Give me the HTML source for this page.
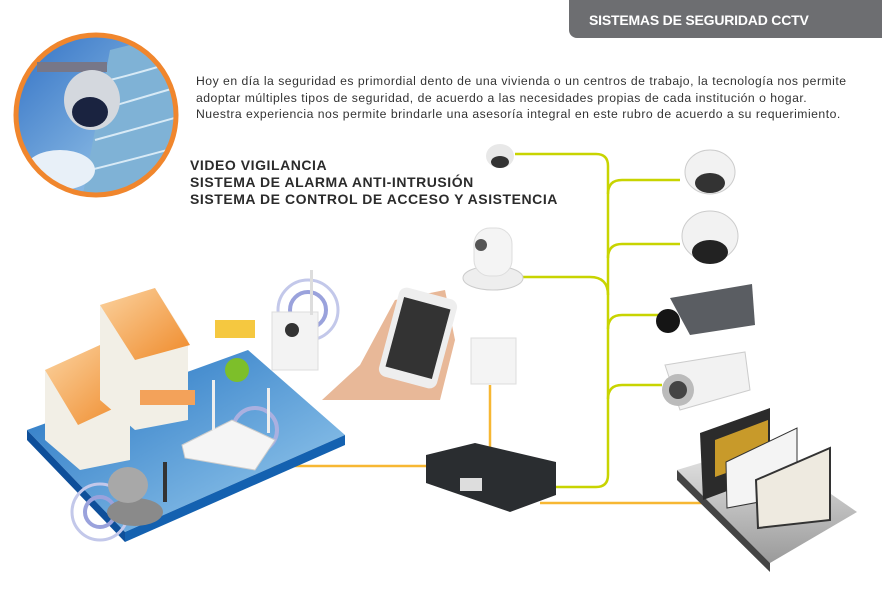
<!DOCTYPE html>
<html><head><meta charset="utf-8"><style>
body{margin:0;width:882px;height:593px;background:#fff;overflow:hidden;position:relative;font-family:"Liberation Sans",sans-serif}
.hdr{position:absolute;left:569px;top:0;width:313px;height:38px;background:#6d6e71;border-bottom-left-radius:8px;color:#fff;font-weight:bold;font-size:14px;line-height:40px;padding-left:20px;box-sizing:border-box;letter-spacing:-0.2px}
.p{position:absolute;left:196px;top:73px;font-size:12.2px;line-height:16.5px;color:#333;white-space:nowrap;letter-spacing:0.5px}
.t{position:absolute;left:190px;top:157px;font-size:14px;font-weight:bold;line-height:17px;color:#2b2b2b;white-space:nowrap;letter-spacing:0.55px}
svg{position:absolute;left:0;top:0}
</style></head><body>
<svg width="882" height="593" viewBox="0 0 882 593">
<defs>
<linearGradient id="sky" x1="0" y1="0" x2="1" y2="1"><stop offset="0" stop-color="#2f6fc4"/><stop offset="0.6" stop-color="#7fb1e0"/><stop offset="1" stop-color="#c7def2"/></linearGradient>
<linearGradient id="plat" x1="0" y1="0" x2="1" y2="1"><stop offset="0" stop-color="#1e6fc0"/><stop offset="1" stop-color="#9fd0f0"/></linearGradient>
<linearGradient id="roof" x1="0" y1="0" x2="1" y2="1"><stop offset="0" stop-color="#fbd3a0"/><stop offset="1" stop-color="#ef8a2a"/></linearGradient>
<linearGradient id="tray" x1="0" y1="0" x2="0" y2="1"><stop offset="0" stop-color="#e8e8e8"/><stop offset="1" stop-color="#9a9a9a"/></linearGradient>
<clipPath id="cc"><circle cx="96" cy="115" r="78"/></clipPath>
</defs>
<g clip-path="url(#cc)">
<rect x="10" y="30" width="180" height="180" fill="url(#sky)"/>
<polygon points="110,50 190,30 190,210 80,210" fill="#7fb2d6"/>
<g stroke="#d8eaf6" stroke-width="2" fill="none"><path d="M110,80 Q150,70 180,60"/><path d="M100,110 Q150,95 185,85"/><path d="M95,140 Q150,125 185,115"/><path d="M90,170 Q150,155 185,145"/></g>
<ellipse cx="60" cy="170" rx="35" ry="20" fill="#e8f0f8"/>
</g>
<circle cx="96" cy="115" r="80" fill="none" stroke="#f0862d" stroke-width="5"/>
<rect x="37" y="62" width="70" height="10" fill="#778"/>
<ellipse cx="92" cy="100" rx="28" ry="30" fill="#d4d8de"/>
<ellipse cx="90" cy="112" rx="18" ry="15" fill="#1a2340"/>
<g fill="none" stroke="#c8d400" stroke-width="2.5">
<path d="M515,154 H596 Q608,154 608,166 V475 Q608,487 596,487 H553"/>
<path d="M522,277 H590 Q608,277 608,295"/>
<path d="M680,180 H622 Q608,180 608,194"/>
<path d="M680,244 H622 Q608,244 608,258"/>
<path d="M660,315 H622 Q608,315 608,329"/>
<path d="M662,385 H622 Q608,385 608,399"/>
</g>
<g fill="none" stroke="#f7b733" stroke-width="2.5">
<path d="M258,466 H430"/><path d="M490,385 V450"/><path d="M540,503 H702"/>
</g>
<polygon points="27,430 248,350 345,435 125,532" fill="url(#plat)"/>
<polygon points="27,430 125,532 125,542 27,440" fill="#0e4f9a"/>
<polygon points="125,532 345,435 345,445 125,542" fill="#1461b0"/>
<polygon points="45,370 100,345 130,395 130,460 80,470 45,440" fill="#f2efe6"/>
<polygon points="45,370 100,345 132,400 78,425" fill="url(#roof)"/>
<polygon points="100,305 155,288 188,340 188,420 135,430 100,400" fill="#f2efe6"/>
<polygon points="100,305 155,288 190,345 135,360" fill="url(#roof)"/>
<rect x="140" y="390" width="55" height="15" fill="#f3a25a"/>
<rect x="215" y="320" width="40" height="18" fill="#f5c840"/>
<circle cx="237" cy="370" r="12" fill="#7dbf2a"/>
<circle cx="308" cy="310" r="30" fill="none" stroke="#c3c8ea" stroke-width="3"/>
<circle cx="308" cy="310" r="18" fill="none" stroke="#9aa2dc" stroke-width="4"/>
<rect x="272" y="312" width="46" height="58" fill="#f3f3f3" stroke="#ddd"/>
<circle cx="292" cy="330" r="7" fill="#333"/>
<rect x="310" y="270" width="3" height="45" fill="#ddd"/>
<polygon points="322,400 360,365 395,300 445,290 455,340 440,400" fill="#e8b898"/>
<rect x="388" y="292" width="60" height="92" rx="8" fill="#eee" transform="rotate(15 418 338)"/>
<rect x="394" y="302" width="48" height="72" fill="#333" transform="rotate(15 418 338)"/>
<circle cx="255" cy="430" r="22" fill="none" stroke="#aab0e0" stroke-width="4"/>
<polygon points="182,445 232,420 275,440 255,470 185,458" fill="#f5f5f5" stroke="#ccc"/>
<rect x="212" y="380" width="3" height="50" fill="#eee"/><rect x="267" y="388" width="3" height="45" fill="#eee"/>
<circle cx="100" cy="512" r="28" fill="none" stroke="#c3c8ea" stroke-width="3"/>
<circle cx="100" cy="512" r="15" fill="none" stroke="#9aa2dc" stroke-width="4"/>
<ellipse cx="135" cy="512" rx="28" ry="14" fill="#8a8a8a"/>
<ellipse cx="128" cy="485" rx="20" ry="18" fill="#a8a8a8"/>
<rect x="163" y="462" width="4" height="40" fill="#333"/>
<ellipse cx="500" cy="156" rx="14" ry="12" fill="#e8e8e8"/><ellipse cx="500" cy="162" rx="9" ry="6" fill="#333"/>
<ellipse cx="493" cy="278" rx="30" ry="12" fill="#eee" stroke="#ccc"/>
<rect x="474" y="228" width="38" height="48" rx="16" fill="#f4f4f4" stroke="#ddd"/>
<circle cx="481" cy="245" r="6" fill="#555"/>
<rect x="471" y="338" width="45" height="46" fill="#f4f4f4" stroke="#ddd"/>
<polygon points="426,455 475,443 556,462 556,495 510,512 426,483" fill="#2a2d30"/>
<rect x="460" y="478" width="22" height="13" fill="#ddd"/>
<ellipse cx="710" cy="172" rx="25" ry="22" fill="#f2f2f2" stroke="#ccc"/><ellipse cx="710" cy="183" rx="15" ry="10" fill="#333"/>
<ellipse cx="710" cy="236" rx="28" ry="25" fill="#f2f2f2" stroke="#ccc"/><ellipse cx="710" cy="252" rx="18" ry="12" fill="#222"/>
<polygon points="670,298 752,284 755,325 690,335" fill="#5a5d62"/>
<circle cx="668" cy="321" r="12" fill="#151515"/>
<polygon points="665,365 745,352 750,390 680,410" fill="#f2f2f2" stroke="#ccc"/>
<circle cx="678" cy="390" r="16" fill="#bbb"/><circle cx="678" cy="390" r="9" fill="#444"/>
<polygon points="677,470 760,445 857,512 770,563" fill="url(#tray)"/>
<polygon points="677,470 770,563 770,572 677,480" fill="#444"/>
<polygon points="700,433 770,408 770,475 703,500" fill="#2b2b2b"/><polygon points="715,440 768,420 768,458 715,477" fill="#c89a2a"/>
<polygon points="726,462 797,428 797,495 727,508" fill="#f4f4f4" stroke="#333"/>
<polygon points="756,480 830,448 830,520 758,528" fill="#eeeae0" stroke="#333" stroke-width="2"/>
</svg>
<div class="hdr">SISTEMAS DE SEGURIDAD CCTV</div>
<div class="p">Hoy en día la seguridad es primordial dento de una vivienda o un centros de trabajo, la tecnología nos permite<br>adoptar múltiples tipos de seguridad, de acuerdo a las necesidades propias de cada institución o hogar.<br>Nuestra experiencia nos permite brindarle una asesoría integral en este rubro de acuerdo a su requerimiento.</div>
<div class="t">VIDEO VIGILANCIA<br>SISTEMA DE ALARMA ANTI-INTRUSIÓN<br>SISTEMA DE CONTROL DE ACCESO Y ASISTENCIA</div>
</body></html>
